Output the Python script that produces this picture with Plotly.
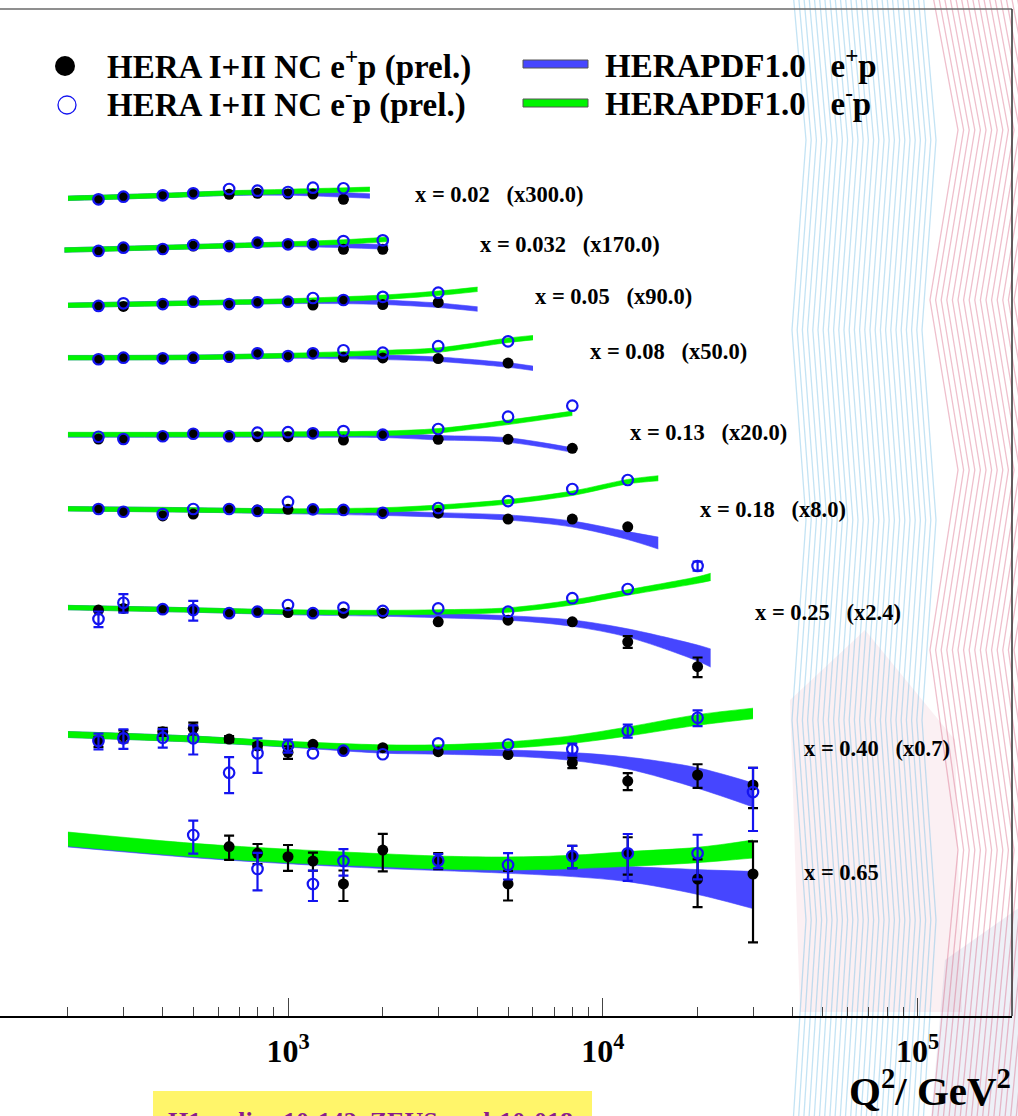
import numpy as np
import plotly.graph_objects as go

# ---------------------------------------------------------------------------
# HERA I+II neutral-current reduced cross sections sigma_r(x, Q^2)
# Each x bin is drawn multiplied by its offset factor.
# ---------------------------------------------------------------------------
X_LABELS = ["0.02", "0.032", "0.05", "0.08", "0.13", "0.18", "0.25", "0.40", "0.65"]
X_FACTORS = [300.0, 170.0, 90.0, 50.0, 20.0, 8.0, 2.4, 0.7, 1.0]
FACTOR_TEXT = ["(x300.0)", "(x170.0)", "(x90.0)", "(x50.0)", "(x20.0)", "(x8.0)", "(x2.4)", "(x0.7)", ""]
# where each bin label sits (Q^2 of its left edge, unscaled sigma_r level)
LABEL_Q2 = [2500, 4000, 6000, 9000, 12000, 20000, 30000, 43000, 43000]
LABEL_SIGMA = [1.104, 0.918, 0.769, 0.604, 0.429, 0.329, 0.229, 0.0973, 0.01015]

# --- x = 0.02 ---
Q2_002 = [250, 300, 400, 500, 650, 800, 1000, 1200, 1500]
EP_002 = [1.033, 1.075, 1.099, 1.133, 1.116, 1.133, 1.121, 1.121, 1.033]
EM_002 = [1.033, 1.075, 1.099, 1.133, 1.210, 1.179, 1.156, 1.235, 1.224]
FIT_Q2_002 = [200, 400, 650, 1000, 1400, 1820]
FIT_EP_002 = [1.049, 1.095, 1.133, 1.138, 1.112, 1.087]
FIT_EM_002 = [1.049, 1.095, 1.138, 1.165, 1.186, 1.205]

# --- x = 0.032 ---
Q2_0032 = [250, 300, 400, 500, 650, 800, 1000, 1200, 1500, 2000]
EP_0032 = [0.825, 0.868, 0.850, 0.890, 0.890, 0.937, 0.914, 0.914, 0.846, 0.846]
EM_0032 = [0.825, 0.868, 0.850, 0.904, 0.890, 0.937, 0.914, 0.914, 0.961, 0.972]
FIT_Q2_0032 = [195, 400, 1000, 1500, 2080]
FIT_EP_0032 = [0.837, 0.870, 0.911, 0.897, 0.877]
FIT_EM_0032 = [0.837, 0.870, 0.918, 0.947, 0.987]

# --- x = 0.05 ---
Q2_005 = [250, 300, 400, 500, 650, 800, 1000, 1200, 1500, 2000, 3000]
EP_005 = [0.670, 0.665, 0.690, 0.715, 0.690, 0.709, 0.715, 0.680, 0.734, 0.685, 0.707]
EM_005 = [0.670, 0.698, 0.690, 0.715, 0.690, 0.709, 0.715, 0.757, 0.734, 0.771, 0.821]
FIT_Q2_005 = [200, 500, 1000, 1500, 2000, 3000, 4000]
FIT_EP_005 = [0.677, 0.701, 0.718, 0.718, 0.709, 0.677, 0.639]
FIT_EM_005 = [0.677, 0.701, 0.723, 0.746, 0.765, 0.814, 0.865]

# --- x = 0.08 ---
Q2_008 = [250, 300, 400, 500, 650, 800, 1000, 1200, 1500, 2000, 3000, 5000]
EP_008 = [0.532, 0.545, 0.540, 0.545, 0.553, 0.583, 0.559, 0.583, 0.548, 0.543, 0.538, 0.502]
EM_008 = [0.532, 0.545, 0.540, 0.545, 0.553, 0.583, 0.559, 0.583, 0.611, 0.589, 0.650, 0.701]
FIT_Q2_008 = [200, 500, 1000, 2000, 3000, 5000, 6000]
FIT_EP_008 = [0.545, 0.548, 0.559, 0.548, 0.532, 0.487, 0.463]
FIT_EM_008 = [0.545, 0.548, 0.564, 0.589, 0.613, 0.712, 0.741]

# --- x = 0.13 ---
Q2_013 = [250, 300, 400, 500, 650, 800, 1000, 1200, 1500, 2000, 3000, 5000, 8000]
EP_013 = [0.391, 0.391, 0.408, 0.424, 0.408, 0.405, 0.405, 0.427, 0.385, 0.418, 0.389, 0.389, 0.339]
EM_013 = [0.405, 0.391, 0.408, 0.424, 0.408, 0.431, 0.434, 0.427, 0.442, 0.418, 0.456, 0.551, 0.652]
FIT_Q2_013 = [200, 500, 1000, 2000, 3000, 5000, 8000]
FIT_EP_013 = [0.416, 0.416, 0.416, 0.414, 0.399, 0.385, 0.330]
FIT_EM_013 = [0.419, 0.419, 0.422, 0.427, 0.444, 0.505, 0.580]

# --- x = 0.18 ---
Q2_018 = [250, 300, 400, 500, 650, 800, 1000, 1200, 1500, 2000, 3000, 5000, 8000, 12000]
EP_018 = [0.334, 0.320, 0.300, 0.309, 0.334, 0.329, 0.332, 0.332, 0.329, 0.315, 0.313, 0.286, 0.286, 0.254]
EM_018 = [0.334, 0.320, 0.309, 0.334, 0.334, 0.324, 0.372, 0.332, 0.329, 0.315, 0.339, 0.377, 0.454, 0.521]
FIT_Q2_018 = [200, 500, 1000, 2000, 3000, 5000, 8000, 12000, 15000]
FIT_EP_018 = [0.335, 0.329, 0.321, 0.313, 0.305, 0.293, 0.265, 0.222, 0.198]
FIT_EP_UNC_018 = [3.5, 3.5, 3.5, 3.5, 3.5, 4.0, 4.7, 6.3, 9.6]
FIT_EM_018 = [0.335, 0.329, 0.324, 0.329, 0.343, 0.373, 0.425, 0.508, 0.535]
FIT_EM_UNC_018 = [3.5, 3.5, 3.5, 3.5, 3.5, 3.5, 3.5, 3.5, 4.0]

# --- x = 0.25 ---
Q2_025 = [250, 300, 400, 500, 650, 800, 1000, 1200, 1500, 2000, 3000, 5000, 8000, 12000, 20000]
EP_025 = [0.236, 0.242, 0.239, 0.236, 0.225, 0.230, 0.227, 0.225, 0.225, 0.225, 0.197, 0.202, 0.197, 0.145, 0.099]
EP_ERR_025 = [0, 5, 0, 0, 0, 0, 0, 0, 0, 0, 0, 0, 0, 9, 15]
EM_025 = [0.206, 0.264, 0.239, 0.236, 0.225, 0.230, 0.255, 0.225, 0.245, 0.233, 0.242, 0.230, 0.283, 0.326, 0.464]
EM_ERR_025 = [12, 14, 0, 15, 0, 0, 0, 0, 0, 0, 0, 0, 0, 0, 7]
FIT_Q2_025 = [200, 500, 1000, 2000, 3000, 5000, 8000, 12000, 20000, 22000]
FIT_EP_025 = [0.245, 0.236, 0.227, 0.222, 0.217, 0.209, 0.193, 0.166, 0.122, 0.113]
FIT_EP_UNC_025 = [3.5, 3.5, 3.5, 3.5, 3.5, 3.5, 5.0, 6.5, 13.0, 15.0]
FIT_EM_025 = [0.245, 0.236, 0.229, 0.227, 0.229, 0.236, 0.265, 0.309, 0.374, 0.392]
FIT_EM_UNC_025 = [3.5, 3.5, 3.5, 3.5, 3.5, 3.5, 3.9, 4.2, 5.2, 5.8]

# --- x = 0.40 ---
Q2_040 = [250, 300, 400, 500, 650, 800, 1000, 1200, 1500, 2000, 3000, 5000, 8000, 12000, 20000, 30000]
EP_040 = [0.1072, 0.1170, 0.1250, 0.1317, 0.1117, 0.1004, 0.0911, 0.1030, 0.0934, 0.0978, 0.0920,
          0.0881, 0.0777, 0.0586, 0.0643, 0.0552]
EP_ERR_040 = [7.7, 9.2, 6.1, 9.2, 4.6, 4.6, 9.7, 0, 0, 0, 0, 0, 8, 13, 18, 30]
EM_040 = [0.1083, 0.1129, 0.1140, 0.1129, 0.0666, 0.0897, 0.1008, 0.0897, 0.0934, 0.0884, 0.1046,
          0.1027, 0.0954, 0.1269, 0.1549, 0.0495]
EM_ERR_040 = [12, 15, 14, 22, 27, 26, 10, 0, 0, 0, 0, 0, 9, 10, 12, 45]
FIT_Q2_040 = [200, 500, 1000, 2000, 3000, 5000, 8000, 12000, 20000, 30000]
FIT_EP_040 = [0.1197, 0.1117, 0.1027, 0.0937, 0.0922, 0.0901, 0.0854, 0.0773, 0.0614, 0.0473]
FIT_EP_UNC_040 = [4.7, 4.7, 4.2, 4.2, 4.2, 4.7, 6.3, 9.6, 17.0, 20.2]
FIT_EM_040 = [0.1197, 0.1117, 0.1035, 0.0981, 0.0981, 0.1019, 0.1109, 0.1254, 0.1496, 0.1653]
FIT_EM_UNC_040 = [4.7, 4.7, 4.2, 4.2, 4.2, 5.0, 6.0, 7.2, 8.5, 8.5]

# --- x = 0.65 ---
Q2_EP_065 = [650, 800, 1000, 1200, 1500, 2000, 3000, 5000, 8000, 12000, 20000, 30000]
EP_065 = [0.0150, 0.01353, 0.01285, 0.01202, 0.00845, 0.01423, 0.01208, 0.00845, 0.01298, 0.01353,
          0.00912, 0.00985]
EP_ERR_065 = [18.5, 15.4, 19.6, 13.9, 23, 28, 12.3, 22.4, 17, 28, 35, 65]
Q2_EM_065 = [500, 800, 1200, 1500, 3000, 5000, 8000, 12000, 20000]
EM_065 = [0.01792, 0.01063, 0.00845, 0.01202, 0.01208, 0.01131, 0.01298, 0.01353, 0.01353]
EM_ERR_065 = [24.8, 28, 23, 20, 10.8, 20, 17, 34.5, 33]
FIT_Q2_065 = [200, 500, 1000, 2000, 3000, 5000, 8000, 12000, 20000, 30000]
FIT_EP_065 = [0.0166, 0.01402, 0.01279, 0.01184, 0.01148, 0.01105, 0.01055, 0.00985, 0.00871, 0.00770]
FIT_EP_UNC_065 = [11.3, 10.8, 11.0, 10.5, 10.5, 11.0, 11.5, 12.5, 21.0, 33.0]
FIT_EM_065 = [0.01685, 0.01423, 0.01298, 0.01216, 0.01175, 0.01157, 0.01184, 0.01240, 0.01318, 0.01445]
FIT_EM_UNC_065 = [11.3, 10.8, 11.0, 10.5, 10.5, 10.5, 10.8, 12.0, 12.5, 14.8]

THIN_BAND = 3.5  # % half-width of the narrow low-x HERAPDF bands


def flat(n, v=THIN_BAND):
    return [v] * n


BINS = [
    dict(q2_ep=Q2_002, ep=EP_002, ep_err=None, q2_em=Q2_002, em=EM_002, em_err=None,
         fq=FIT_Q2_002, fep=FIT_EP_002, fep_u=flat(6), fem=FIT_EM_002, fem_u=flat(6)),
    dict(q2_ep=Q2_0032, ep=EP_0032, ep_err=None, q2_em=Q2_0032, em=EM_0032, em_err=None,
         fq=FIT_Q2_0032, fep=FIT_EP_0032, fep_u=flat(5), fem=FIT_EM_0032, fem_u=flat(5)),
    dict(q2_ep=Q2_005, ep=EP_005, ep_err=None, q2_em=Q2_005, em=EM_005, em_err=None,
         fq=FIT_Q2_005, fep=FIT_EP_005, fep_u=flat(7), fem=FIT_EM_005, fem_u=flat(7)),
    dict(q2_ep=Q2_008, ep=EP_008, ep_err=None, q2_em=Q2_008, em=EM_008, em_err=None,
         fq=FIT_Q2_008, fep=FIT_EP_008, fep_u=flat(7), fem=FIT_EM_008, fem_u=flat(7)),
    dict(q2_ep=Q2_013, ep=EP_013, ep_err=None, q2_em=Q2_013, em=EM_013, em_err=None,
         fq=FIT_Q2_013, fep=FIT_EP_013, fep_u=flat(7), fem=FIT_EM_013, fem_u=flat(7)),
    dict(q2_ep=Q2_018, ep=EP_018, ep_err=None, q2_em=Q2_018, em=EM_018, em_err=None,
         fq=FIT_Q2_018, fep=FIT_EP_018, fep_u=FIT_EP_UNC_018, fem=FIT_EM_018, fem_u=FIT_EM_UNC_018),
    dict(q2_ep=Q2_025, ep=EP_025, ep_err=EP_ERR_025, q2_em=Q2_025, em=EM_025, em_err=EM_ERR_025,
         fq=FIT_Q2_025, fep=FIT_EP_025, fep_u=FIT_EP_UNC_025, fem=FIT_EM_025, fem_u=FIT_EM_UNC_025),
    dict(q2_ep=Q2_040, ep=EP_040, ep_err=EP_ERR_040, q2_em=Q2_040, em=EM_040, em_err=EM_ERR_040,
         fq=FIT_Q2_040, fep=FIT_EP_040, fep_u=FIT_EP_UNC_040, fem=FIT_EM_040, fem_u=FIT_EM_UNC_040),
    dict(q2_ep=Q2_EP_065, ep=EP_065, ep_err=EP_ERR_065, q2_em=Q2_EM_065, em=EM_065, em_err=EM_ERR_065,
         fq=FIT_Q2_065, fep=FIT_EP_065, fep_u=FIT_EP_UNC_065, fem=FIT_EM_065, fem_u=FIT_EM_UNC_065),
]

# ---------------------------------------------------------------------------
# styling
# ---------------------------------------------------------------------------
FONT = "Liberation Serif"
BLUE_BAND = "#4646ff"
GREEN_BAND = "#00f400"
EM_BLUE = "#1414f0"
W, H = 1018, 1116
PLOT_L, PLOT_R, PLOT_T, PLOT_B = 0, 1012, 9, 1016


def pp(px, py):
    """window pixel -> paper coordinates (for layout decoration)"""
    return (px - PLOT_L) / (PLOT_R - PLOT_L), (PLOT_B - py) / (PLOT_B - PLOT_T)


fig = go.Figure()

# HERAPDF1.0 bands: e+p (blue) underneath, e-p (green) on top
for b, f in zip(BINS, X_FACTORS):
    for cen, unc, col in ((b["fep"], b["fep_u"], BLUE_BAND), (b["fem"], b["fem_u"], GREEN_BAND)):
        c = np.asarray(cen) * f
        r = 1.0 + np.asarray(unc) / 100.0
        common = dict(x=b["fq"], mode="lines", hoverinfo="skip", showlegend=False,
                      line=dict(color=col, width=0.6, shape="spline", smoothing=0.9))
        fig.add_trace(go.Scatter(y=c / r, **common))
        fig.add_trace(go.Scatter(y=c * r, fill="tonexty", fillcolor=col, **common))


def add_points(q2, vals, errs, f, color, symbol, size, lw):
    q2 = np.asarray(q2, float)
    v = np.asarray(vals, float) * f
    if errs is not None:
        e = np.asarray(errs, float)
        m = e > 0
        if m.any():
            fig.add_trace(go.Scatter(
                x=q2[m], y=v[m], mode="markers", hoverinfo="skip", showlegend=False,
                marker=dict(size=1, color="rgba(0,0,0,0)"),
                error_y=dict(type="data", array=(v * e / 100.0)[m], color=color,
                             thickness=2.2, width=5)))
    fig.add_trace(go.Scatter(
        x=q2, y=v, mode="markers", hoverinfo="skip", showlegend=False,
        marker=dict(symbol=symbol, size=size, color=color, line=dict(color=color, width=lw))))


for b, f in zip(BINS, X_FACTORS):
    add_points(b["q2_ep"], b["ep"], b["ep_err"], f, "black", "circle", 11, 0)
for b, f in zip(BINS, X_FACTORS):
    add_points(b["q2_em"], b["em"], b["em_err"], f, EM_BLUE, "circle-open", 10.5, 2.2)

# ---------------------------------------------------------------------------
# annotations: bin labels, legend, axis title, preliminary tag
# ---------------------------------------------------------------------------
ann = []
NB = "\u00a0"
for lab, ftxt, lq, ls, f in zip(X_LABELS, FACTOR_TEXT, LABEL_Q2, LABEL_SIGMA, X_FACTORS):
    txt = f"x = {lab}" + (NB * 3 + ftxt if ftxt else "")
    ann.append(dict(x=np.log10(lq), y=np.log10(ls * f), xref="x", yref="y",
                    text=f"<b>{txt}</b>", showarrow=False, xanchor="left", yanchor="middle",
                    font=dict(family=FONT, size=22.5, color="black")))

legend_txt = [
    ((105, 65), "HERA I+II NC e<sup>+</sup>p (prel.)"),
    ((105, 103), "HERA I+II NC e<sup>-</sup>p (prel.)"),
    ((603, 63), "HERAPDF1.0" + NB * 3 + "e<sup>+</sup>p"),
    ((603, 101), "HERAPDF1.0" + NB * 3 + "e<sup>-</sup>p"),
]
for (px, py), t in legend_txt:
    x, y = pp(px, py)
    ann.append(dict(x=x, y=y, xref="paper", yref="paper", text=f"<b>{t}</b>", showarrow=False,
                    xanchor="left", yanchor="middle", font=dict(family=FONT, size=33, color="black")))

x, y = pp(1013, 1088)
ann.append(dict(x=x, y=y, xref="paper", yref="paper", xanchor="right", yanchor="middle",
                text="<b>Q<sup>2</sup>/ GeV<sup>2</sup></b>", showarrow=False,
                font=dict(family=FONT, size=41, color="black")))

x, y = pp(166, 1122)
ann.append(dict(x=x, y=y, xref="paper", yref="paper", xanchor="left", yanchor="middle",
                text="<b>H1prelim-10-142, ZEUS-prel-10-018</b>", showarrow=False,
                font=dict(family=FONT, size=26, color="#8a1c8e")))

# ---------------------------------------------------------------------------
# shapes: background pattern, frame, legend symbols, yellow tag
# ---------------------------------------------------------------------------
shapes = []


def poly_path(points, close=False):
    pts = [pp(px, py) for px, py in points]
    return "M" + " L".join(f"{a:.5f},{b:.5f}" for a, b in pts) + (" Z" if close else "")


# faint poster background on the right-hand side
shapes.append(dict(type="path", xref="paper", yref="paper", layer="below",
                   path=poly_path([(790, 700), (865, 630), (955, 740), (962, 1012), (800, 1012)], True),
                   fillcolor="rgba(225,140,165,0.13)", line=dict(width=0)))
shapes.append(dict(type="path", xref="paper", yref="paper", layer="below",
                   path=poly_path([(945, 960), (1030, 900), (1030, 1130), (930, 1130)], True),
                   fillcolor="rgba(120,140,190,0.13)", line=dict(width=0)))
zig_y = [-20, 140, 330, 520, 720, 920, 1140]
for k in range(26):
    x0 = 792 + 5.2 * k
    pts = [(x0 + (14 if i % 2 else 0), yy) for i, yy in enumerate(zig_y)]
    shapes.append(dict(type="path", path=poly_path(pts), xref="paper", yref="paper", layer="below",
                       line=dict(color="rgba(105,185,228,0.40)", width=1.3)))
zig_y2 = [-20, 130, 300, 470, 650, 850, 1140]
for k in range(16):
    x0 = 930 + 5.6 * k
    pts = [(x0 + (28 if i % 2 else 0), yy) for i, yy in enumerate(zig_y2)]
    shapes.append(dict(type="path", path=poly_path(pts), xref="paper", yref="paper", layer="below",
                       line=dict(color="rgba(214,96,128,0.40)", width=1.3)))

# frame: top and right edges
shapes.append(dict(type="line", xref="paper", yref="paper", x0=0, x1=1, y0=1, y1=1,
                   line=dict(color="#6a6a6a", width=1.5)))
shapes.append(dict(type="line", xref="paper", yref="paper", x0=1, x1=1, y0=0, y1=1,
                   line=dict(color="#303030", width=1.5)))

# legend symbols
a0, b0 = pp(55, 76); a1, b1 = pp(75, 56)
shapes.append(dict(type="circle", xref="paper", yref="paper", x0=a0, y0=b0, x1=a1, y1=b1,
                   fillcolor="black", line=dict(color="black", width=0)))
a0, b0 = pp(58, 114); a1, b1 = pp(76, 96)
shapes.append(dict(type="circle", xref="paper", yref="paper", x0=a0, y0=b0, x1=a1, y1=b1,
                   fillcolor="rgba(0,0,0,0)", line=dict(color=EM_BLUE, width=1.3)))
for (ya, yb), col in (((60, 68), BLUE_BAND), ((99, 107), GREEN_BAND)):
    a0, b0 = pp(523, yb); a1, b1 = pp(588, ya)
    shapes.append(dict(type="rect", xref="paper", yref="paper", x0=a0, y0=b0, x1=a1, y1=b1,
                       fillcolor=col, line=dict(color="#555555", width=1)))

# yellow preliminary tag (runs off the bottom edge)
a0, b0 = pp(153, 1160); a1, b1 = pp(592, 1091)
shapes.append(dict(type="rect", xref="paper", yref="paper", x0=a0, y0=b0, x1=a1, y1=b1,
                   fillcolor="#fff56a", line=dict(width=0), layer="below"))

# ---------------------------------------------------------------------------
decades = [100, 1000, 10000, 100000]
minor_vals = [m * d for d in decades for m in range(2, 10)]

fig.update_layout(
    width=W, height=H,
    margin=dict(l=PLOT_L, r=W - PLOT_R, t=PLOT_T, b=H - PLOT_B),
    paper_bgcolor="white", plot_bgcolor="rgba(0,0,0,0)",
    showlegend=False,
    xaxis=dict(
        type="log", range=[2.0851, 5.2998], showgrid=False, zeroline=False,
        showline=True, linecolor="black", linewidth=2,
        ticks="inside", ticklen=18, tickwidth=1.2, tickcolor="#444444",
        tickvals=[1e3, 1e4, 1e5],
        ticktext=["<b>10<sup>3</sup></b>", "<b>10<sup>4</sup></b>", "<b>10<sup>5</sup></b>"],
        tickfont=dict(family=FONT, size=32, color="black"),
        ticklabelstandoff=6,
        minor=dict(tickvals=minor_vals, ticks="inside", ticklen=9, tickwidth=1.2,
                   tickcolor="#444444", showgrid=False),
    ),
    yaxis=dict(type="log", range=[-2.9533, 3.76], visible=False),
    annotations=ann,
    shapes=shapes,
)

fig.write_html("out.html")
